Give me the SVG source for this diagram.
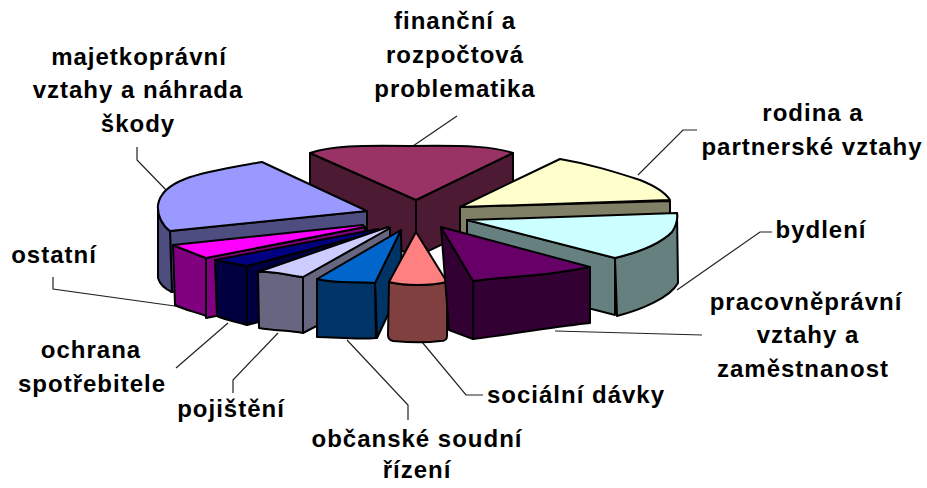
<svg xmlns="http://www.w3.org/2000/svg" width="927" height="488" viewBox="0 0 927 488">
<style>
.f{stroke:#000;stroke-width:2;stroke-linejoin:round}
.ld{fill:none;stroke:#222;stroke-width:1.2}
.t{font-family:"Liberation Sans",Arial,sans-serif;font-weight:bold;font-size:24px;letter-spacing:1px;text-anchor:middle;fill:#000}
</style>
<rect width="927" height="488" fill="#fff"/>
<g id="connectors">
<polyline class="ld" points="413,146 457,116"/>
<polyline class="ld" points="137,147 137,160 168,192"/>
<polyline class="ld" points="53,277 53,289 182,307"/>
<polyline class="ld" points="176,368 228,323"/>
<polyline class="ld" points="233,393 233,380 278,333"/>
<polyline class="ld" points="347,340 408,405 408,420"/>
<polyline class="ld" points="422,342 466,395 483,395"/>
<polyline class="ld" points="555,331 702,335"/>
<polyline class="ld" points="677,290 760,232 772,232"/>
<polyline class="ld" points="638,175 683,130 697,130"/>
</g>
<g id="financni">
<path class="f" fill="#4d1a33" d="M310,153 L416,200 L416,257 L310,210 Z"/>
<path class="f" fill="#4d1a33" d="M416,200 L513,153 L513,210 L416,257 Z"/>
<path class="f" fill="#993366" d="M310,153 C330,146 360,145 410,146 C470,145 495,147 513,153 L416,200 Z"/>
<text class="t" x="455" y="29">finanční a</text>
<text class="t" x="455" y="63">rozpočtová</text>
<text class="t" x="455" y="97">problematika</text>
</g>
<g id="majetkopravni">
<path class="f" fill="#4d4d80" d="M170,231 L367,211 L367,271 L171,292 Z"/>
<path class="f" fill="#4d4d80" d="M158,205 L158,278 C160,285 165,289 172,292 L170,231 C163,226 157,216 158,205 Z"/>
<path class="f" fill="#9999ff" d="M262,162 L367,211 L170,231 C163,226 157,216 158,205 C160,192 172,184 185,179 C205,171 240,166 262,162 Z"/>
<text class="t" x="139" y="65">majetkoprávní</text>
<text class="t" x="138" y="98">vztahy a náhrada</text>
<text class="t" x="138" y="132">škody</text>
</g>
<g id="rodina">
<path class="f" fill="#808066" d="M460,207 L670,201 L670,261 L460,267 Z"/>
<path class="f" fill="#ffffcc" d="M460,207 L560,159 C590,164 615,172 640,180 C655,186 665,192 670,200 L460,207 Z"/>
<text class="t" x="813" y="121">rodina a</text>
<text class="t" x="812" y="155">partnerské vztahy</text>
</g>
<g id="bydleni">
<path class="f" fill="#668080" d="M467,220 L615,258 L615,315 L467,277 Z"/>
<path class="f" fill="#668080" d="M615,258 C640,252 660,244 672,232 C676,226 678,220 677,213 L678,283 C670,298 640,310 617,316 Z"/>
<path class="f" fill="#ccffff" d="M467,220 L677,213 C678,220 676,226 672,232 C660,244 640,252 615,258 Z"/>
<text class="t" x="821" y="238">bydlení</text>
</g>
<g id="ostatni">
<path class="f" fill="#800080" d="M206,258 L365,227 L365,287 L206,318 Z"/>
<path class="f" fill="#800080" d="M173,245 C185,250 195,254 206,258 L206,316 C195,312 183,309 175,305 Z"/>
<path class="f" fill="#ff00ff" d="M173,245 L363,225 L365,227 L206,258 C195,254 185,250 173,245 Z"/>
<text class="t" x="54" y="263">ostatní</text>
</g>
<g id="ochrana">
<path class="f" fill="#000040" d="M247,266 L380,231 L380,290 L247,325 Z"/>
<path class="f" fill="#000040" d="M215,260 C226,262 237,264 247,266 L247,325 C237,322 226,320 217,316 Z"/>
<path class="f" fill="#000080" d="M215,260 L378,229 L380,231 L247,266 C237,264 226,262 215,260 Z"/>
<text class="t" x="91" y="358">ochrana</text>
<text class="t" x="92" y="392">spotřebitele</text>
</g>
<g id="pojisteni">
<path class="f" fill="#666680" d="M303,277 L390,228 L390,288 L303,333 Z"/>
<path class="f" fill="#666680" d="M258,272 C270,270 290,276 303,277 L303,333 C290,330 275,331 259,328 Z"/>
<path class="f" fill="#ccccff" d="M258,272 L388,227 L390,228 L303,277 C290,276 270,270 258,272 Z"/>
<text class="t" x="231" y="417">pojištění</text>
</g>
<g id="obcanske">
<path class="f" fill="#003366" d="M375,283 L401,230 L402,285 L377,338 Z"/>
<path class="f" fill="#003366" d="M317,279 C335,284 355,281 375,283 L376,338 C356,340 335,337 317,337 Z"/>
<path class="f" fill="#0066cc" d="M317,279 L401,230 L375,283 C355,281 335,284 317,279 Z"/>
<text class="t" x="417" y="447">občanské soudní</text>
<text class="t" x="417" y="478">řízení</text>
</g>
<g id="socialni">
<path class="f" fill="#804040" d="M389,282 C405,286 430,286 447,282 L447,336 C447,340 445,341 440,341 C425,343 405,342 393,341 C389,340 388,338 388,335 Z"/>
<path class="f" fill="#ff8080" d="M416,232 L447,282 C430,286 405,286 389,282 Z"/>
<text class="t" x="576" y="403">sociální dávky</text>
</g>
<g id="pracovne">
<path class="f" fill="#330033" d="M441,227 L473,281 L473,339 L449,330 Z"/>
<path class="f" fill="#330033" d="M473,281 C500,277 540,276 560,272 C575,270 585,268 590,267 L590,323 C560,326 520,333 473,339 Z"/>
<path class="f" fill="#660066" d="M441,227 L590,267 C585,268 575,270 560,272 C540,276 500,277 473,281 Z"/>
<text class="t" x="806" y="310">pracovněprávní</text>
<text class="t" x="808" y="343">vztahy a</text>
<text class="t" x="803" y="377">zaměstnanost</text>
</g>
</svg>
